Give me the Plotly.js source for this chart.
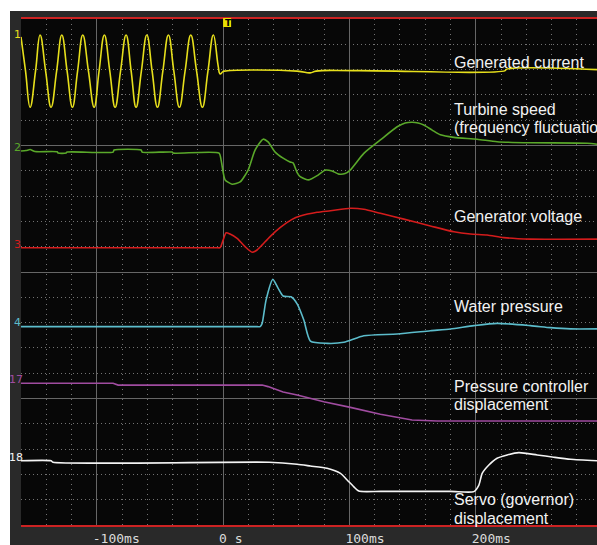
<!DOCTYPE html>
<html><head><meta charset="utf-8">
<script src="https://cdn.plot.ly/plotly-3.0.1.min.js"></script>
<style>
html,body{margin:0;padding:0;background:#ffffff;width:597px;height:545px;overflow:hidden}
#chart{position:absolute;left:10px;top:11px;width:587px;height:534px}
</style>
</head><body><div id="chart"></div>
<script>
// time axis (ms) and tick labels
const tickVals = [-100, 0, 100, 200];
const tickText = ['-100ms', '0 s', '100ms', '200ms'];

// values in grid units (0 = bottom edge, 20 = top edge, 5 units per major division)
// CH1 generated current
const currentT = [-160,-156.4,-152.8,-148.5,-144.9,-140.5,-136.2,-131.8,-127.7,-123.5,-119.3,-115.2,-111.1,-106.6,-102.1,-98.2,-94.0,-89.7,-85.5,-81.2,-76.8,-72.8,-68.9,-64.7,-60.4,-56.2,-52.0,-47.7,-43.3,-39.0,-34.6,-30.1,-25.6,-21.0,-16.4,-12.0,-7.7,-4.0,-2.4,-0.4,0.8,58.6,68.9,73.6,106.1,223.3,224.1,296];
const currentV = [19.29,17.94,16.51,17.94,19.37,17.94,16.51,17.94,19.37,17.94,16.51,17.94,19.37,17.94,16.51,17.94,19.37,17.94,16.51,17.94,19.37,17.94,16.51,17.94,19.37,17.94,16.51,17.94,19.37,17.94,16.51,17.94,19.37,17.94,16.51,17.94,19.37,18.18,17.83,17.91,17.94,17.94,17.87,17.94,17.96,17.96,18.01,18.00];

// CH2 turbine speed
const speedT = [-160,-156.0,-152.8,-148.9,-131.4,-130.6,-124.3,-123.5,-87.1,-86.3,-64.9,-64.1,-40.4,-39.6,-3.2,-1.6,0,1.6,7.1,13.5,19.8,25.3,31.7,35.6,41.2,47.5,53.0,55.4,58.6,61.0,67.9,75.2,81.0,86.3,91.6,96.6,100.6,111.4,124.5,137.8,144.1,149.6,154.4,158.9,165.5,172.0,182.7,201.1,216.9,243.3,288.2,296];
const speedV = [14.78,14.80,14.84,14.76,14.75,14.70,14.70,14.74,14.74,14.82,14.82,14.74,14.74,14.70,14.70,14.43,13.95,13.64,13.47,13.56,14.03,14.82,15.25,15.14,14.74,14.50,14.35,14.31,13.93,13.77,13.64,13.83,14.03,13.99,13.87,13.89,14.03,14.69,15.22,15.74,15.89,15.92,15.89,15.81,15.61,15.42,15.32,15.25,15.15,15.11,15.09,15.05];

// CH3 generator voltage
const voltT = [-160,-80,-5,-2.4,0,2.4,5.5,11.1,17.4,23.0,26.9,30.9,37.2,45.1,54.6,61.0,74.4,85.0,100.8,111.4,124.5,143.1,164.1,182.7,195.8,209.0,222.2,243.3,296];
const voltV = [10.96,10.96,10.96,10.96,11.26,11.55,11.50,11.33,11.00,10.78,10.87,11.07,11.40,11.75,12.08,12.21,12.36,12.42,12.52,12.48,12.32,12.09,11.82,11.59,11.50,11.46,11.36,11.30,11.30];

// CH4 water pressure
const pressT = [-160,-60,27,29.3,30.9,34.0,39.4,43.5,47.5,53.8,58.6,63.9,69.1,82.3,95.6,111.4,137.8,164.1,180.0,198.5,216.9,243.3,259.1,275.0,296];
const pressV = [7.84,7.84,7.84,7.84,7.97,8.89,9.71,9.36,9.05,9.02,8.74,8.10,7.27,7.18,7.22,7.48,7.55,7.68,7.75,7.88,7.97,7.88,7.80,7.75,7.75];

// CH17 pressure controller displacement
const ctrlT = [-160,-87.1,-83.1,30.9,35.6,41.2,47.5,58.6,79.7,100.8,124.5,149.6,169.4,296];
const ctrlV = [5.60,5.60,5.53,5.53,5.47,5.36,5.26,5.14,4.87,4.65,4.38,4.15,4.11,4.11];

// CH18 servo (governor) displacement
const servoT = [-160,-136.2,-134.6,36.4,58.6,69.1,82.3,92.9,98.2,103.5,107.4,125,180,198.5,202.5,205.1,210.4,216.9,224.9,234.1,248.6,261.8,275.0,296];
const servoV = [2.54,2.54,2.48,2.48,2.40,2.33,2.24,2.04,1.78,1.51,1.34,1.33,1.33,1.32,1.58,2.04,2.37,2.64,2.77,2.86,2.77,2.68,2.60,2.54];

const colors = {yellow:'#e6df1c', green:'#5aa82a', red:'#d41c1c', cyan:'#5cbccb', magenta:'#a04ca0', white:'#f4f4f4'};

function tr(x, y, color, shape, smoothing) {
  return {x: x, y: y, type: 'scatter', mode: 'lines',
    line: {color: color, width: 1.6, shape: shape || 'spline', smoothing: smoothing === undefined ? 0.6 : smoothing},
    hoverinfo: 'skip'};
}
const data = [
  tr(currentT, currentV, colors.yellow, 'spline', 1.25),
  tr(speedT, speedV, colors.green),
  tr(voltT, voltV, colors.red),
  tr(pressT, pressV, colors.cyan),
  tr(ctrlT, ctrlV, colors.magenta, 'linear'),
  tr(servoT, servoV, colors.white)
];

// plot area in page pixels: left 21, top 19, width 576, height 506
function px(x) { return (x - 21) / 576; }
function py(y) { return (525 - y) / 506; }

const annotations = [];
function chLabel(text, x, y, color) {
  annotations.push({xref:'paper', yref:'paper', x: px(x), y: py(y), text: text, showarrow:false,
    xanchor:'center', yanchor:'middle', font:{family:'DejaVu Sans', size:11, color: color}});
}
chLabel('1', 17.7, 34.5, colors.yellow);
chLabel('2', 17.7, 147, colors.green);
chLabel('3', 17.7, 244, colors.red);
chLabel('4', 17.7, 322.7, colors.cyan);
chLabel('17', 15.5, 379, colors.magenta);
chLabel('18', 15.5, 457.3, colors.white);

function txt(text, y) {
  annotations.push({xref:'paper', yref:'paper', x: px(453), y: py(y), text: text, showarrow:false,
    xanchor:'left', yanchor:'middle', borderpad: 0,
    font:{family:'Liberation Sans, Arial, sans-serif', size:16, color:'#f2f2f2'}});
}
txt('Generated current', 62.7);
txt('Turbine speed', 109.2);
txt('(frequency fluctuation)', 127.8);
txt('Generator voltage', 216.1);
txt('Water pressure', 306.1);
txt('Pressure controller', 386.3);
txt('displacement', 404.9);
txt('Servo (governor)', 499.6);
txt('displacement', 518.2);

// trigger marker
annotations.push({xref:'x', yref:'paper', x: 0, y: py(22.6), text:'<b>T</b>', showarrow:false,
  xanchor:'left', yanchor:'middle', xshift: 0.5, borderpad: 0, font:{family:'DejaVu Sans', size:9, color:'#000000'}});

const layout = {
  width: 587, height: 534,
  margin: {l: 11, r: 0, t: 8, b: 20, pad: 0},
  paper_bgcolor: '#292929',
  plot_bgcolor: '#070707',
  showlegend: false,
  xaxis: {
    range: [-160, 296], tickmode: 'array', tickvals: tickVals, ticktext: tickText,
    showgrid: true, gridcolor: '#666666', gridwidth: 1, zeroline: false,
    showline: true, linecolor: '#cc2222', linewidth: 2, mirror: true,
    ticks: '', ticklabelposition: 'outside right', ticklabelshift: -5,
    tickfont: {family: 'DejaVu Sans Mono', size: 13, color: '#dcdcdc'},
    minor: {tickmode: 'linear', tick0: 0, dtick: 20, showgrid: true, gridcolor: '#727272', griddash: '1px,4px', gridwidth: 1}
  },
  yaxis: {
    range: [0, 20], tickmode: 'linear', tick0: 0, dtick: 5, showticklabels: false,
    showgrid: true, gridcolor: '#666666', gridwidth: 1, zeroline: false, showline: false, ticks: '',
    minor: {tickmode: 'linear', tick0: 0, dtick: 1, showgrid: true, gridcolor: '#727272', griddash: '1px,3px', gridwidth: 1}
  },
  shapes: [
    {type:'rect', layer:'above', xref:'x', xsizemode:'pixel', xanchor: 0, x0: 0, x1: 8,
     yref:'paper', ysizemode:'pixel', yanchor: 1, y0: -8, y1: 1,
     fillcolor:'#e8e000', line:{width:0}}
  ],
  annotations: annotations
};

Plotly.newPlot('chart', data, layout, {staticPlot: true, displayModeBar: false});
</script></body></html>
